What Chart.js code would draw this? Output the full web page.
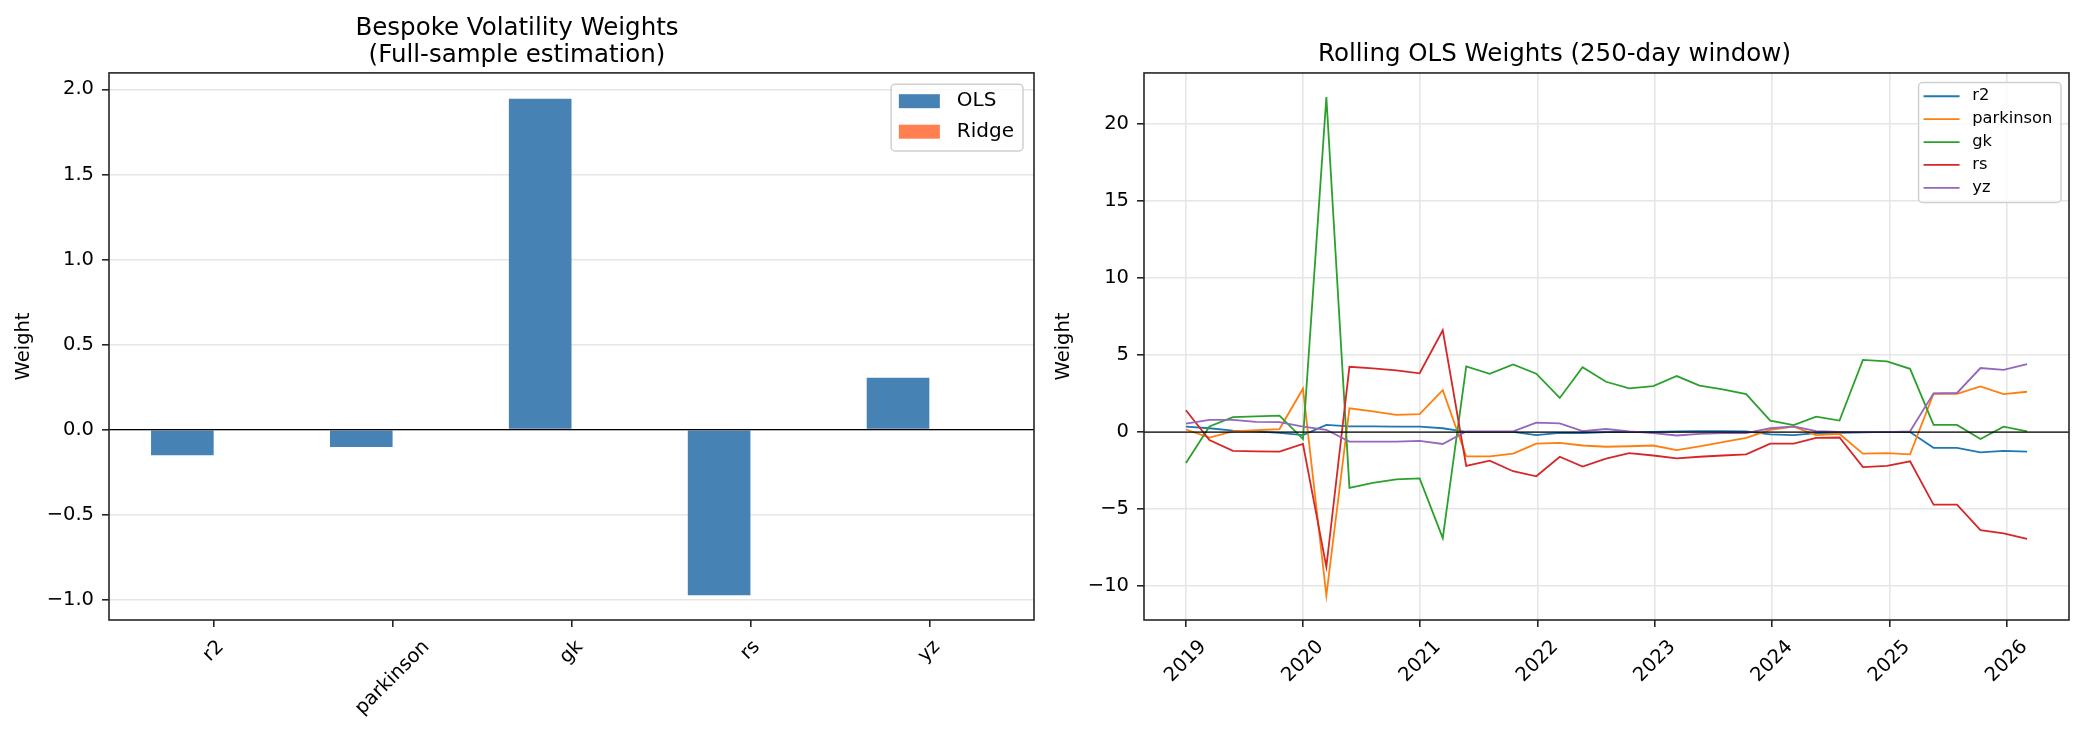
<!DOCTYPE html>
<html>
<head>
<meta charset="utf-8">
<script src="https://cdn.jsdelivr.net/npm/chart.js@4.4.0/dist/chart.umd.min.js"></script>
<style>
  html, body { margin: 0; padding: 0; background: #fff; }
  body { width: 2083px; height: 736px; position: relative; overflow: hidden; }
  #left { position: absolute; left: 0; top: 0; }
  #right { position: absolute; left: 1040px; top: 0; }
</style>
</head>
<body>
<canvas id="left" width="1060" height="736"></canvas>
<canvas id="right" width="1043" height="736"></canvas>
<script>
// --- full-sample weights (left panel)
const features = ['r2', 'parkinson', 'gk', 'rs', 'yz'];
const olsWeights = [-0.151, -0.102, 1.945, -0.973, 0.305];
const ridgeWeights = [0, 0, 0, 0, 0];

// --- rolling OLS weights, one value per window end date (right panel)
const windowDates = [
  '2019-01-02', '2019-03-16', '2019-05-28', '2019-08-08', '2019-10-20',
  '2020-01-01', '2020-03-14', '2020-05-25', '2020-08-06', '2020-10-18',
  '2020-12-30', '2021-03-12', '2021-05-24', '2021-08-05', '2021-10-17',
  '2021-12-28', '2022-03-11', '2022-05-21', '2022-08-02', '2022-10-13',
  '2022-12-27', '2023-03-10', '2023-05-20', '2023-07-31', '2023-10-12',
  '2023-12-26', '2024-03-08', '2024-05-17', '2024-07-29', '2024-10-10',
  '2024-12-24', '2025-03-06', '2025-05-18', '2025-07-30', '2025-10-11',
  '2025-12-22', '2026-03-05'
];
const rollR2 = [0.35, 0.25, 0.10, 0.05, -0.05, -0.20, 0.47, 0.37, 0.37, 0.36,
  0.35, 0.25, 0.02, 0.02, 0.02, -0.20, -0.05, -0.07, 0.00, 0.02,
  0.02, 0.05, 0.07, 0.07, 0.05, -0.15, -0.20, -0.07, -0.05, -0.02,
  0.02, 0.00, -1.02, -1.02, -1.32, -1.22, -1.27];
const rollParkinson = [0.17, -0.35, 0.05, 0.12, 0.20, 2.82, -10.62, 1.55, 1.35, 1.12,
  1.17, 2.72, -1.57, -1.57, -1.40, -0.75, -0.70, -0.87, -0.95, -0.92,
  -0.87, -1.17, -0.92, -0.65, -0.37, 0.15, 0.35, -0.20, -0.12, -1.40,
  -1.37, -1.45, 2.49, 2.49, 2.97, 2.47, 2.62];
const rollGk = [-2.00, 0.37, 0.97, 1.02, 1.07, -0.45, 21.75, -3.62, -3.30, -3.07,
  -3.00, -6.88, 4.26, 3.79, 4.39, 3.79, 2.22, 4.21, 3.27, 2.84,
  2.99, 3.64, 3.02, 2.77, 2.47, 0.75, 0.45, 1.00, 0.75, 4.69,
  4.59, 4.11, 0.47, 0.47, -0.45, 0.35, 0.05];
const rollRs = [1.42, -0.52, -1.22, -1.25, -1.27, -0.77, -8.75, 4.24, 4.14, 4.01,
  3.82, 6.61, -2.19, -1.85, -2.54, -2.87, -1.60, -2.24, -1.72, -1.37,
  -1.52, -1.70, -1.60, -1.52, -1.45, -0.75, -0.75, -0.37, -0.35, -2.27,
  -2.19, -1.90, -4.71, -4.71, -6.36, -6.58, -6.93];
const rollYz = [0.55, 0.80, 0.80, 0.67, 0.65, 0.35, 0.15, -0.62, -0.62, -0.62,
  -0.57, -0.77, 0.05, 0.05, 0.05, 0.62, 0.57, 0.07, 0.20, 0.05,
  -0.07, -0.22, -0.12, -0.07, -0.07, 0.25, 0.37, 0.07, 0.02, 0.00,
  0.00, 0.05, 2.52, 2.54, 4.16, 4.04, 4.41];
const lineColors = ['#1f77b4', '#ff7f0e', '#2ca02c', '#d62728', '#9467bd'];

const FONT = "'DejaVu Sans', sans-serif";
const TICK_SIZE = 19.5;
Chart.defaults.font.family = FONT;
Chart.defaults.color = '#000';
Chart.defaults.animation = false;

// date string -> fractional year, so a linear axis can place it
function toYear(s) {
  const d = new Date(s + 'T00:00:00Z');
  const y = d.getUTCFullYear();
  const start = Date.UTC(y, 0, 1), end = Date.UTC(y + 1, 0, 1);
  return y + (d.getTime() - start) / (end - start);
}
// matplotlib style minus sign
function fmt(v, dec) {
  const s = Math.abs(v) < 1e-9 ? (0).toFixed(dec) : v.toFixed(dec);
  return s.replace('-', '\u2212');
}

// extra matplotlib look: zero line, spines, centred rotated x labels, legend in the axes
function mplExtras(cfg) {
  return {
    id: 'mplExtras',
    afterDatasetsDraw(chart) {
      const { ctx, chartArea: a } = chart;
      const y0 = chart.scales.y.getPixelForValue(0);
      ctx.save();
      ctx.strokeStyle = '#000';
      ctx.lineWidth = 1.2;
      ctx.beginPath();
      ctx.moveTo(a.left, y0);
      ctx.lineTo(a.right, y0);
      ctx.stroke();
      ctx.restore();
    },
    afterDraw(chart) {
      const { ctx, chartArea: a } = chart;
      ctx.save();
      // spines
      ctx.strokeStyle = '#262626';
      ctx.lineWidth = 1.6;
      ctx.strokeRect(a.left, a.top, a.right - a.left, a.bottom - a.top);

      // x tick labels, rotated 45 and centred on the tick
      const xs = chart.scales.x;
      ctx.font = TICK_SIZE + 'px ' + FONT;
      ctx.fillStyle = '#000';
      ctx.textAlign = 'center';
      ctx.textBaseline = 'middle';
      xs.ticks.forEach(t => {
        const label = cfg.xLabel(t.value);
        const w = ctx.measureText(label).width;
        const cx = xs.getPixelForValue(t.value);
        const cy = a.bottom + 17 + (w + TICK_SIZE) / (2 * Math.SQRT2);
        ctx.save();
        ctx.translate(cx, cy);
        ctx.rotate(-Math.PI / 4);
        ctx.fillText(label, 0, 0);
        ctx.restore();
      });

      // legend
      const L = cfg.legend;
      const items = chart.data.datasets;
      ctx.font = L.fontSize + 'px ' + FONT;
      const textW = Math.max(...items.map(d => ctx.measureText(d.label).width));
      const bw = L.padL + L.handleLen + L.gap + textW + L.padR;
      const bh = L.padTop + (items.length - 1) * L.rowH + L.padBot;
      const bx = a.right - L.marginR - bw;
      const by = a.top + L.marginT;
      ctx.beginPath();
      ctx.roundRect(bx, by, bw, bh, 4);
      ctx.fillStyle = 'rgba(255,255,255,0.8)';
      ctx.fill();
      ctx.strokeStyle = '#d0d0d0';
      ctx.lineWidth = 1.5;
      ctx.stroke();
      ctx.textAlign = 'left';
      items.forEach((d, i) => {
        const cy = by + L.padTop + i * L.rowH;
        const hx = bx + L.padL;
        if (L.kind === 'box') {
          ctx.fillStyle = d.backgroundColor;
          ctx.fillRect(hx, cy - 7, L.handleLen, 14);
        } else {
          ctx.strokeStyle = d.borderColor;
          ctx.lineWidth = 1.8;
          ctx.beginPath();
          ctx.moveTo(hx, cy);
          ctx.lineTo(hx + L.handleLen, cy);
          ctx.stroke();
        }
        ctx.fillStyle = '#000';
        ctx.fillText(d.label, hx + L.handleLen + L.gap, cy);
      });
      ctx.restore();
    }
  };
}

function xAxis(min, max, gridColor) {
  return {
    type: 'linear', min: min, max: max, offset: false,
    ticks: { stepSize: 1, includeBounds: false, autoSkip: false, maxRotation: 0,
      color: 'rgba(0,0,0,0)', font: { size: TICK_SIZE } },
    grid: { display: true, drawOnChartArea: gridColor !== null, offset: false,
      color: gridColor || '#e6e6e6', lineWidth: 1.6, tickColor: '#262626', tickLength: 7 },
    border: { display: false },
    afterFit: s => { s.height = 116; }
  };
}
function yAxis(min, max, step, dec, width) {
  return {
    min: min, max: max,
    ticks: { stepSize: step, includeBounds: false, padding: 8, font: { size: TICK_SIZE },
      callback: v => fmt(v, dec) },
    grid: { color: '#e6e6e6', lineWidth: 1.6, tickColor: '#262626', tickLength: 7 },
    border: { display: false },
    title: { display: true, text: 'Weight', font: { size: TICK_SIZE }, padding: { top: 12, bottom: 0 } },
    afterFit: s => { s.width = width; }
  };
}

// left: bespoke weights
new Chart(document.getElementById('left'), {
  type: 'bar',
  data: {
    datasets: [
      { label: 'OLS', data: features.map((f, i) => ({ x: i, y: olsWeights[i] })),
        backgroundColor: '#4682b4', categoryPercentage: 0.7, barPercentage: 1.0 },
      { label: 'Ridge', data: features.map((f, i) => ({ x: i, y: ridgeWeights[i] })),
        backgroundColor: '#ff7f50', categoryPercentage: 0.7, barPercentage: 1.0 }
    ]
  },
  options: {
    responsive: false,
    devicePixelRatio: 1,
    layout: { padding: { left: 0, right: 26, top: 0, bottom: 0 } },
    plugins: {
      legend: { display: false },
      tooltip: { enabled: false },
      title: { display: true, text: ['Bespoke Volatility Weights', '(Full-sample estimation)'],
        font: { size: 24.5, weight: 'normal', lineHeight: 1.1 }, color: '#000',
        padding: { top: 15, bottom: 4 } }
    },
    scales: {
      x: xAxis(-0.585, 4.585, null),
      y: yAxis(-1.119, 2.097, 0.5, 1, 109)
    }
  },
  plugins: [mplExtras({
    xLabel: v => features[Math.round(v)] || '',
    legend: { kind: 'box', fontSize: 20, padL: 7.7, handleLen: 41, gap: 17, padR: 9,
      padTop: 17, rowH: 30.5, padBot: 19.2, marginR: 11, marginT: 11.3 }
  })]
});

// right: rolling OLS weights
const windowX = windowDates.map(toYear);
const rollSeries = [
  ['r2', rollR2], ['parkinson', rollParkinson], ['gk', rollGk], ['rs', rollRs], ['yz', rollYz]
];
new Chart(document.getElementById('right'), {
  type: 'line',
  data: {
    datasets: rollSeries.map(([name, vals], i) => ({
      label: name,
      data: windowX.map((x, j) => ({ x: x, y: vals[j] })),
      borderColor: lineColors[i],
      backgroundColor: lineColors[i],
      borderWidth: 1.8,
      pointRadius: 0,
      tension: 0,
      fill: false,
      order: rollSeries.length - i
    }))
  },
  options: {
    responsive: false,
    devicePixelRatio: 1,
    layout: { padding: { left: 0, right: 14, top: 0, bottom: 0 } },
    plugins: {
      legend: { display: false },
      tooltip: { enabled: false },
      title: { display: true, text: 'Rolling OLS Weights (250-day window)',
        font: { size: 24.5, weight: 'normal', lineHeight: 1.1 }, color: '#000',
        padding: { top: 41.5, bottom: 4.5 } }
    },
    scales: {
      x: xAxis(2018.645, 2026.53, '#e6e6e6'),
      y: yAxis(-12.2, 23.32, 5, 0, 104)
    }
  },
  plugins: [mplExtras({
    xLabel: v => String(Math.round(v)),
    legend: { kind: 'line', fontSize: 16.3, padL: 5, handleLen: 36, gap: 12.7, padR: 8.7,
      padTop: 13.7, rowH: 22.9, padBot: 14.6, marginR: 8, marginT: 9.6 }
  })]
});
</script>
</body>
</html>
